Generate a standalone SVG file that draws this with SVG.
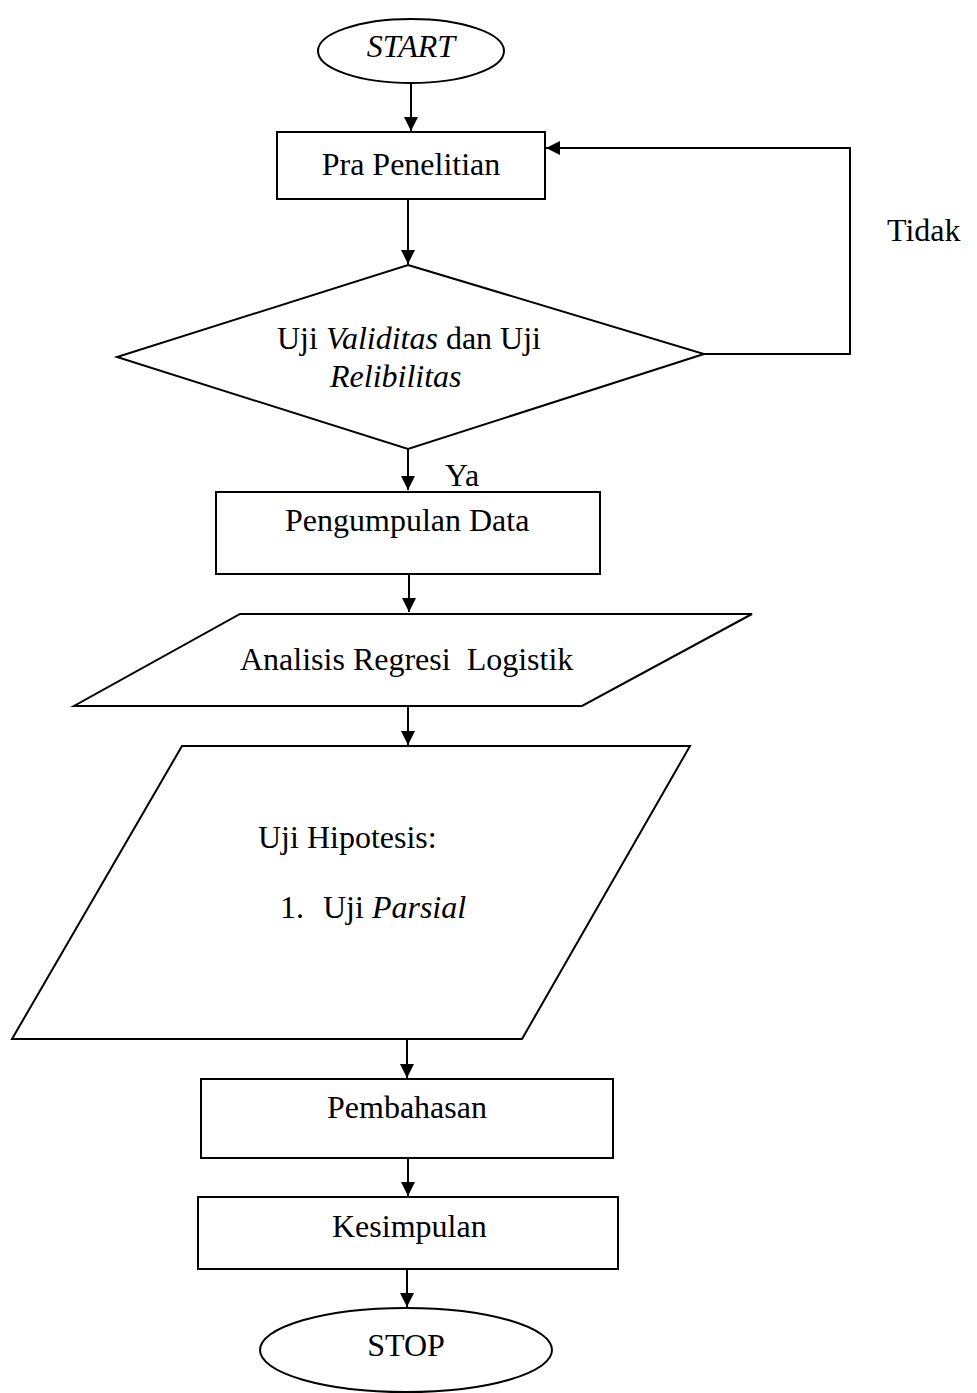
<svg xmlns="http://www.w3.org/2000/svg" width="977" height="1393" viewBox="0 0 977 1393">
<defs>
<style>
.s{fill:#fff;stroke:#000;stroke-width:2}
.t{font-family:"Liberation Serif","Times New Roman",serif;font-size:32px;fill:#000}
.i{font-style:italic}
.c{fill:none;stroke:#000;stroke-width:2}
</style>
<marker id="ah" markerUnits="userSpaceOnUse" markerWidth="16" markerHeight="16" refX="14" refY="7" orient="auto">
<path d="M0,0 L14,7 L0,14 Z" fill="#000"/>
</marker>
</defs>
<rect width="977" height="1393" fill="#fff"/>
<g id="connectors">
<line class="c" x1="411" y1="84" x2="411" y2="131" marker-end="url(#ah)"/>
<line class="c" x1="408" y1="199" x2="408" y2="264" marker-end="url(#ah)"/>
<polyline class="c" points="704,354 850,354 850,148 546,148" marker-end="url(#ah)"/>
<line class="c" x1="408" y1="449" x2="408" y2="490" marker-end="url(#ah)"/>
<line class="c" x1="409" y1="574" x2="409" y2="612" marker-end="url(#ah)"/>
<line class="c" x1="408" y1="706" x2="408" y2="745" marker-end="url(#ah)"/>
<line class="c" x1="407" y1="1039" x2="407" y2="1078" marker-end="url(#ah)"/>
<line class="c" x1="408" y1="1158" x2="408" y2="1196" marker-end="url(#ah)"/>
<line class="c" x1="407" y1="1269" x2="407" y2="1307" marker-end="url(#ah)"/>
<text class="t" x="887" y="241">Tidak</text>
<text class="t" x="445" y="486">Ya</text>
</g>
<g id="start">
<ellipse class="s" cx="411" cy="51" rx="93" ry="32"/>
<text class="t i" x="411" y="57" text-anchor="middle">START</text>
</g>
<g id="pra">
<rect class="s" x="277" y="132" width="268" height="67"/>
<text class="t" x="411" y="175" text-anchor="middle">Pra Penelitian</text>
</g>
<g id="uji">
<polygon class="s" points="408,265 704,354 408,449 117,357"/>
<text class="t" x="277" y="349">Uji <tspan class="i">Validitas</tspan> dan Uji</text>
<text class="t i" x="330" y="387">Relibilitas</text>
</g>
<g id="pengumpulan">
<rect class="s" x="216" y="492" width="384" height="82"/>
<text class="t" x="285" y="531">Pengumpulan Data</text>
</g>
<g id="analisis">
<polygon class="s" points="240,614 752,614 582,706 74,706"/>
<text class="t" x="240" y="670" xml:space="preserve">Analisis Regresi  Logistik</text>
</g>
<g id="hipotesis">
<polygon class="s" points="182,746 690,746 522,1039 12,1039"/>
<text class="t" x="258" y="848">Uji Hipotesis:</text>
<text class="t" x="280" y="918">1.</text>
<text class="t" x="323" y="918">Uji <tspan class="i">Parsial</tspan></text>
</g>
<g id="pembahasan">
<rect class="s" x="201" y="1079" width="412" height="79"/>
<text class="t" x="327" y="1118">Pembahasan</text>
</g>
<g id="kesimpulan">
<rect class="s" x="198" y="1197" width="420" height="72"/>
<text class="t" x="332" y="1237">Kesimpulan</text>
</g>
<g id="stop">
<ellipse class="s" cx="406" cy="1350" rx="146" ry="42"/>
<text class="t" x="406" y="1356" text-anchor="middle">STOP</text>
</g>
</svg>
